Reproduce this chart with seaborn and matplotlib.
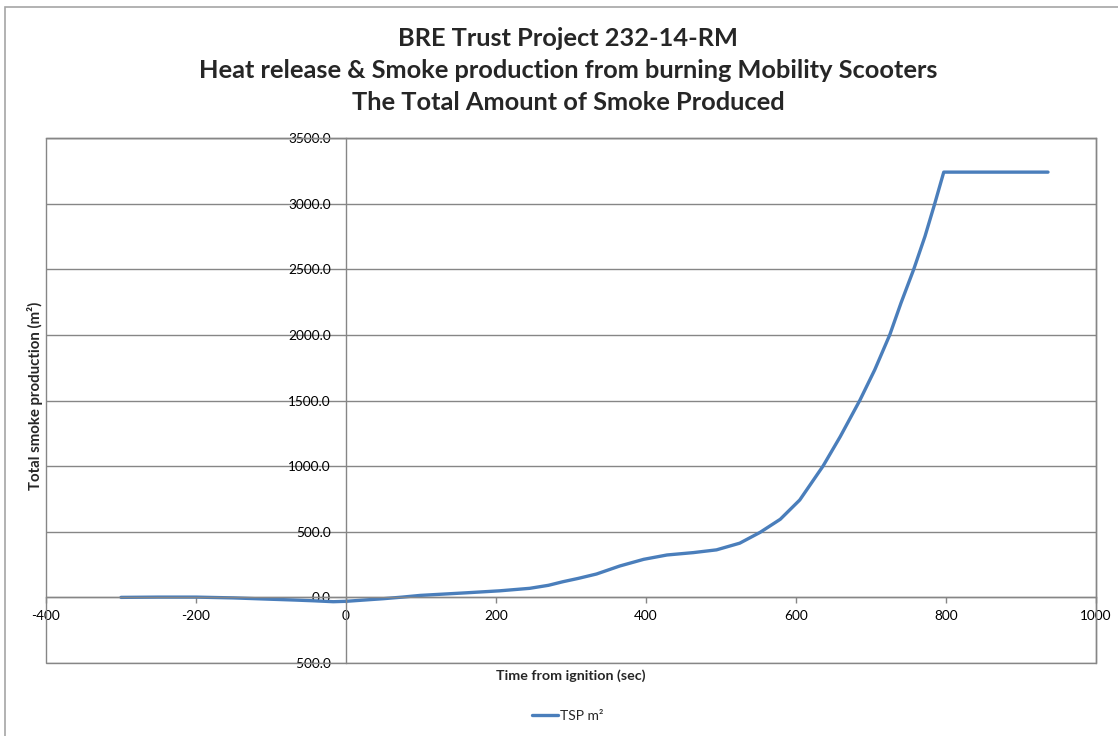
"""
Total smoke production curve, BRE Trust project 232-14-RM
"""
import pandas as pd
import matplotlib
matplotlib.use("Agg")
import matplotlib.pyplot as plt
import matplotlib.patches as mpatches
from matplotlib.ticker import FormatStrFormatter, MultipleLocator
import seaborn as sns

# Data
time_s = [-300, -250, -200, -150, -106, -70, -43, -17, 0, 25, 50, 75, 99, 130,
          161, 205, 245, 270, 289, 310, 334, 365, 397, 428, 463, 494, 525, 552,
          579, 605, 636, 659, 685, 705, 725, 740, 757, 772, 785, 797, 850, 900, 936]
tsp_m2 = [0, 2, 2, -4, -13, -20, -26, -33, -30, -20, -10, 2, 15, 25,
          35, 50, 69, 92, 119, 145, 178, 239, 290, 323, 341, 362, 413, 495,
          595, 742, 1000, 1225, 1500, 1734, 2000, 2243, 2500, 2751, 3000, 3240, 3240, 3240, 3240]

TITLE_LINES = ["BRE Trust Project 232-14-RM",
               "Heat release & Smoke production from burning Mobility Scooters",
               "The Total Amount of Smoke Produced"]
TITLE_Y_PX = [38, 71, 103]
LINE_COLOR = "#4a7ebb"
GRID_COLOR = "#868686"


def main():
    sns.set_style("white")
    plt.rcParams["font.family"] = ["Lato", "DejaVu Sans"]
    plt.rcParams["axes.unicode_minus"] = False

    df = pd.DataFrame({"Time from ignition (sec)": time_s, "TSP m²": tsp_m2})

    fig = plt.figure(figsize=(11.18, 7.36), dpi=100)
    ax = fig.add_axes([46 / 1118, 1 - 663 / 736, 1050 / 1118, 525 / 736])

    sns.lineplot(data=df, x="Time from ignition (sec)", y="TSP m²", ax=ax,
                 color=LINE_COLOR, linewidth=2.4, label="TSP m²", legend=False)

    ax.set_xlim(-400, 1000)
    ax.set_ylim(-500, 3500)
    ax.xaxis.set_major_locator(MultipleLocator(200))
    ax.yaxis.set_major_locator(MultipleLocator(500))
    ax.yaxis.set_major_formatter(FormatStrFormatter("%.1f"))

    # axes cross at zero like the spreadsheet chart
    ax.spines["left"].set_position(("data", 0))
    ax.spines["bottom"].set_position(("data", 0))
    for s in ax.spines.values():
        s.set_color(GRID_COLOR)
        s.set_linewidth(1.0)
    ax.add_patch(mpatches.Rectangle((0, 0), 1, 1, transform=ax.transAxes, fill=False,
                                    edgecolor=GRID_COLOR, linewidth=1.0, clip_on=False))
    ax.yaxis.grid(True, color=GRID_COLOR, linewidth=1.0)
    ax.set_axisbelow(True)

    ax.tick_params(axis="x", direction="out", length=4, width=1, color=GRID_COLOR,
                   pad=5, labelsize=9.8, labelcolor="black", bottom=True)
    ax.tick_params(axis="y", length=0, pad=11, labelsize=9.8, labelcolor="black")

    ax.set_xlabel("")
    ax.set_ylabel("")
    fig.text(571 / 1118, 1 - 676 / 736, "Time from ignition (sec)", ha="center",
             va="center", fontsize=10.3, fontweight="bold")
    fig.text(35 / 1118, 1 - 396 / 736, "Total smoke production (m²)", ha="center",
             va="center", rotation=90, fontsize=10.8, fontweight="bold")
    for line, y_px in zip(TITLE_LINES, TITLE_Y_PX):
        fig.text(568 / 1118, 1 - y_px / 736, line, ha="center", va="center",
                 fontsize=18.3, fontweight="bold")

    handles, labels = ax.get_legend_handles_labels()
    fig.legend(handles, labels, loc="center", bbox_to_anchor=(568 / 1118, 1 - 716 / 736),
               frameon=False, fontsize=10, handlelength=1.9, handletextpad=0.15)

    # outer chart frame
    fig.add_artist(mpatches.Rectangle((5 / 1118, -0.1), 1.2, 1.1 - 7 / 736,
                                      transform=fig.transFigure, fill=False,
                                      edgecolor="#a6a6a6", linewidth=1.2))

    fig.savefig("out.png", dpi=100)


if __name__ == "__main__":
    main()
